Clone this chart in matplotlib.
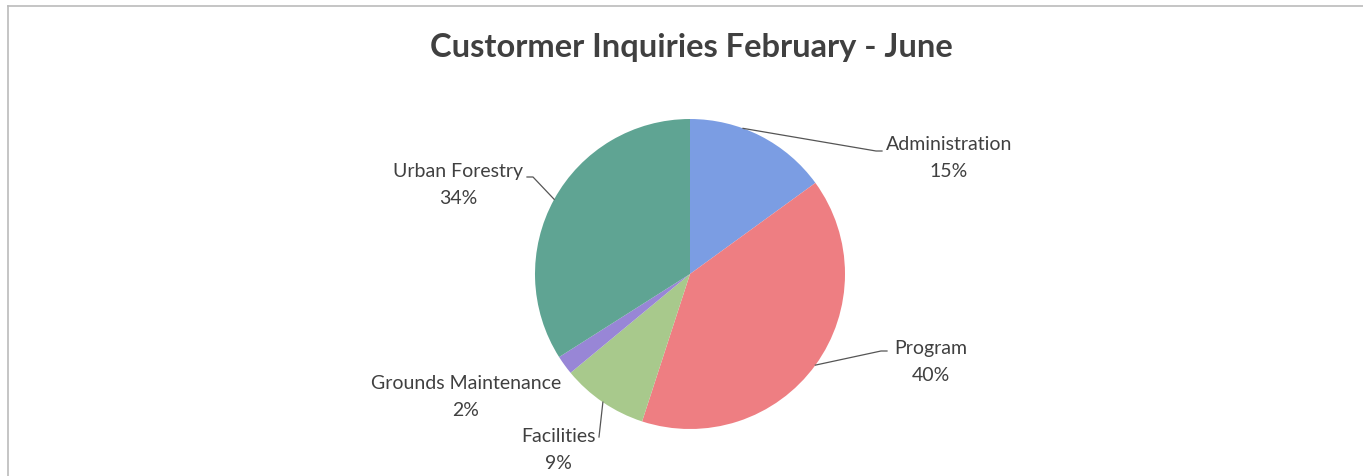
import numpy as np
import matplotlib
matplotlib.use("Agg")
import matplotlib.pyplot as plt

categories = ["Administration", "Program", "Facilities", "Grounds Maintenance", "Urban Forestry"]
shares = [15, 40, 9, 2, 34]
colors = ["#7b9de3", "#ee7e82", "#a8c98c", "#9886d6", "#5fa493"]

# label text anchors (pixels, y down) and where the leader line meets the text
label_pos = {
    "Administration": (949, 158, (882, 152)),
    "Program": (931, 362, (887, 352)),
    "Facilities": (558, 450, (599, 438)),
    "Grounds Maintenance": (466, 397, None),
    "Urban Forestry": (458, 185, (527, 178)),
}

W, H = 1363, 477
plt.rcParams['font.family'] = ['Lato', 'DejaVu Sans']
fig = plt.figure(figsize=(W / 100, H / 100), dpi=100)
ax = fig.add_axes([0, 0, 1, 1])

cx, cy, r = 690, H - 275, 155
wedges, _ = ax.pie(shares, colors=colors, startangle=90, counterclock=False,
                   center=(cx, cy), radius=r, frame=True,
                   wedgeprops=dict(linewidth=0))
ax.set_xlim(0, W)
ax.set_ylim(0, H)
ax.set_aspect("equal")
ax.axis("off")

txt_color = "#404040"
for w, name, val in zip(wedges, categories, shares):
    tx, ty, join = label_pos[name]
    ax.text(tx, H - ty, f"{name}\n{val}%", ha="center", va="center",
            fontsize=14, color=txt_color, linespacing=1.65)
    if join is not None:
        mid = np.deg2rad((w.theta1 + w.theta2) / 2)
        if name == "Administration":
            # leader starts at pie rim closer to the top
            mid = np.deg2rad(w.theta2 - 20)
        ex, ey = cx + r * np.cos(mid), cy + r * np.sin(mid)
        jx, jy = join[0], H - join[1]
        hx = jx + (6 if jx < ex else -6)
        if name == "Facilities":
            hx = jx
        ax.plot([ex, hx, jx], [ey, jy, jy], color="#555555", lw=0.9)

ax.text(W / 2 + 10, H - 48, "Custormer Inquiries February - June", ha="center",
        va="center", fontsize=23.5, fontweight="bold", color="#404040")

# chart frame
ax.plot([8, W], [H - 7, H - 7], color="#bbbbbb", lw=1.2)
ax.plot([8, 8], [H - 7, 0], color="#bbbbbb", lw=1.2)

fig.savefig("out.png", dpi=100)
